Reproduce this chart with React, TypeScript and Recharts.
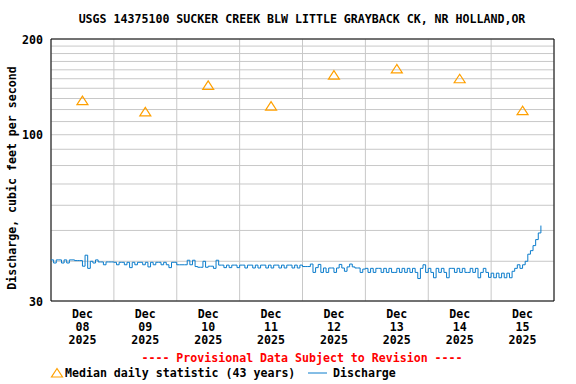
import { ComposedChart, Line, Scatter, XAxis, YAxis, CartesianGrid, ReferenceArea } from 'recharts';

const FONT = '"DejaVu Sans Mono", monospace';
const FS = 11.6;

const title = 'USGS 14375100 SUCKER CREEK BLW LITTLE GRAYBACK CK, NR HOLLAND,OR';
const yLabel = 'Discharge, cubic feet per second';
const notice = '---- Provisional Data Subject to Revision ----';
const medianLabel = 'Median daily statistic (43 years)';
const dischargeLabel = 'Discharge';

const monthLabel = 'Dec';
const dayLabels = ['08', '09', '10', '11', '12', '13', '14', '15'];
const yearLabel = '2025';

// hours since Dec 08 00:00
const dayBounds = [0, 24, 48, 72, 96, 120, 144, 168, 192];
const dayCenters = [12, 36, 60, 84, 108, 132, 156, 180];

const yGridTicks = [30, 40, 50, 60, 70, 80, 90, 100, 110, 120, 130, 140, 150, 160, 170, 180, 190, 200];
const yLabelTicks = [30, 100, 200];

const medianValues = [128, 118, 143, 123, 154, 161, 150, 119];

// hourly discharge, cfs
const dec08 = [40.4, 39.5, 40.4, 40.4, 39.5, 40.4, 39.5, 40.4, 40.4, 40.2, 40.2, 40.2, 38.6, 41.8, 38.0, 40.0, 39.5, 40.4, 39.8, 39.8, 39.0, 39.8, 39.8, 39.8];
const dec09 = [39.7, 39.0, 39.7, 39.7, 39.0, 39.7, 38.2, 39.7, 39.0, 39.7, 39.7, 39.0, 39.7, 38.4, 39.7, 39.0, 39.7, 39.7, 39.0, 39.7, 39.0, 38.2, 39.7, 39.7];
const dec10 = [39.0, 39.0, 39.0, 39.0, 40.3, 39.0, 40.3, 38.5, 38.3, 38.3, 40.0, 38.3, 38.6, 38.6, 38.0, 40.3, 38.9, 38.9, 38.2, 38.9, 38.2, 38.9, 38.9, 38.2];
const dec11 = [38.9, 38.9, 38.1, 38.9, 38.9, 38.1, 38.9, 38.1, 38.9, 38.9, 38.1, 38.9, 38.1, 38.9, 38.9, 38.1, 38.9, 38.1, 38.9, 38.9, 38.1, 38.9, 38.1, 38.9];
const dec12 = [38.5, 38.5, 38.5, 39.2, 36.9, 38.2, 39.1, 36.9, 38.1, 36.9, 38.1, 38.1, 36.9, 38.1, 39.1, 38.1, 37.2, 38.4, 39.2, 38.4, 38.1, 38.1, 36.9, 37.8];
const dec13 = [38.0, 36.9, 38.0, 36.9, 38.0, 38.0, 36.9, 38.0, 36.9, 38.0, 36.9, 36.9, 38.0, 36.9, 38.0, 36.9, 38.0, 36.9, 38.0, 36.9, 35.3, 38.0, 39.0, 36.9];
const dec14 = [38.0, 36.9, 35.5, 38.0, 36.9, 38.0, 36.9, 35.5, 38.0, 38.0, 36.9, 38.0, 36.9, 38.0, 36.9, 36.9, 38.0, 36.9, 38.0, 35.5, 36.9, 38.0, 36.9, 35.6];
const dec15 = [36.7, 35.5, 36.7, 35.5, 36.7, 35.5, 36.7, 35.5, 37.2, 38.0, 39.0, 38.0, 39.0, 40.0, 42.1, 43.2, 44.8, 46.8, 49.1, 51.8];

const discharge = [...dec08, ...dec09, ...dec10, ...dec11, ...dec12, ...dec13, ...dec14, ...dec15].map((q, i) => ({ t: i, q }));
const medians = dayCenters.map((t, i) => ({ t, v: medianValues[i] }));

const ORANGE = '#ffa000';
const BLUE = '#0a7ccc';

function renderTriangle(props: any) {
  const { cx, cy } = props;
  return (
    <polygon
      points={`${cx},${cy - 4.5} ${cx - 5.5},${cy + 4} ${cx + 5.5},${cy + 4}`}
      fill="none"
      stroke={ORANGE}
      strokeWidth={1.2}
    />
  );
}

function renderXTick(props: any) {
  const { x, y, payload } = props;
  const idx = dayCenters.indexOf(payload.value);
  return (
    <text x={x} y={y} textAnchor="middle" fontFamily={FONT} fontWeight="bold" fontSize={FS} fill="#000">
      <tspan x={x} y={y + 17}>{monthLabel}</tspan>
      <tspan x={x} y={y + 30}>{dayLabels[idx]}</tspan>
      <tspan x={x} y={y + 43}>{yearLabel}</tspan>
    </text>
  );
}

function renderYTick(props: any) {
  const { x, y, payload } = props;
  if (!yLabelTicks.includes(payload.value)) return <g />;
  return (
    <text x={x} y={y + 4.5} textAnchor="end" fontFamily={FONT} fontWeight="bold" fontSize={FS} fill="#000">
      {payload.value}
    </text>
  );
}

export default function App() {
  return (
    <div style={{ position: 'absolute', left: 0, top: 0, width: 576, height: 384, background: '#fff' }}>
      <ComposedChart width={576} height={384} margin={{ top: 39, right: 22, bottom: 0, left: 0 }}>
        <CartesianGrid stroke="#c8c8c8" />
        <XAxis xAxisId={0} dataKey="t" type="number" domain={[0, 192]} ticks={dayBounds} interval={0} height={0} hide />
        <XAxis
          xAxisId="lab"
          dataKey="t"
          type="number"
          domain={[0, 192]}
          ticks={dayCenters}
          interval={0}
          height={83}
          axisLine={false}
          tickLine={false}
          tickSize={0}
          tickMargin={0}
          tick={renderXTick}
        />
        <YAxis
          scale="log"
          type="number"
          domain={[30, 200]}
          ticks={yGridTicks}
          interval={0}
          width={51}
          axisLine={false}
          tickLine={false}
          tickSize={0}
          tickMargin={8}
          tick={renderYTick}
          allowDataOverflow
        />
        <ReferenceArea x1={0} x2={192} y1={30} y2={200} fill="none" fillOpacity={0} stroke="#000" strokeWidth={1} />
        <Line
          data={discharge}
          dataKey="q"
          type="stepAfter"
          stroke={BLUE}
          strokeWidth={1}
          dot={false}
          activeDot={false}
          isAnimationActive={false}
        />
        <Scatter xAxisId="lab" data={medians} dataKey="v" shape={renderTriangle} isAnimationActive={false} />
      </ComposedChart>
      <svg width={576} height={384} style={{ position: 'absolute', left: 0, top: 0, pointerEvents: 'none' }}>
        <g fontFamily={FONT} fontWeight="bold" fontSize={FS}>
          <text x={302} y={23} textAnchor="middle" fill="#000">{title}</text>
          <text x={16} y={178} textAnchor="middle" fill="#000" transform="rotate(-90, 16, 178)">{yLabel}</text>
          <text x={302} y={362} textAnchor="middle" fill="#ff0000">{notice}</text>
          <polygon points="57,368.5 51.5,377 62.5,377" fill="none" stroke={ORANGE} strokeWidth={1.2} />
          <text x={65} y={377} fill="#000">{medianLabel}</text>
          <line x1={308} y1={373} x2={327} y2={373} stroke={BLUE} strokeWidth={1} />
          <text x={333} y={377} fill="#000">{dischargeLabel}</text>
        </g>
      </svg>
    </div>
  );
}
